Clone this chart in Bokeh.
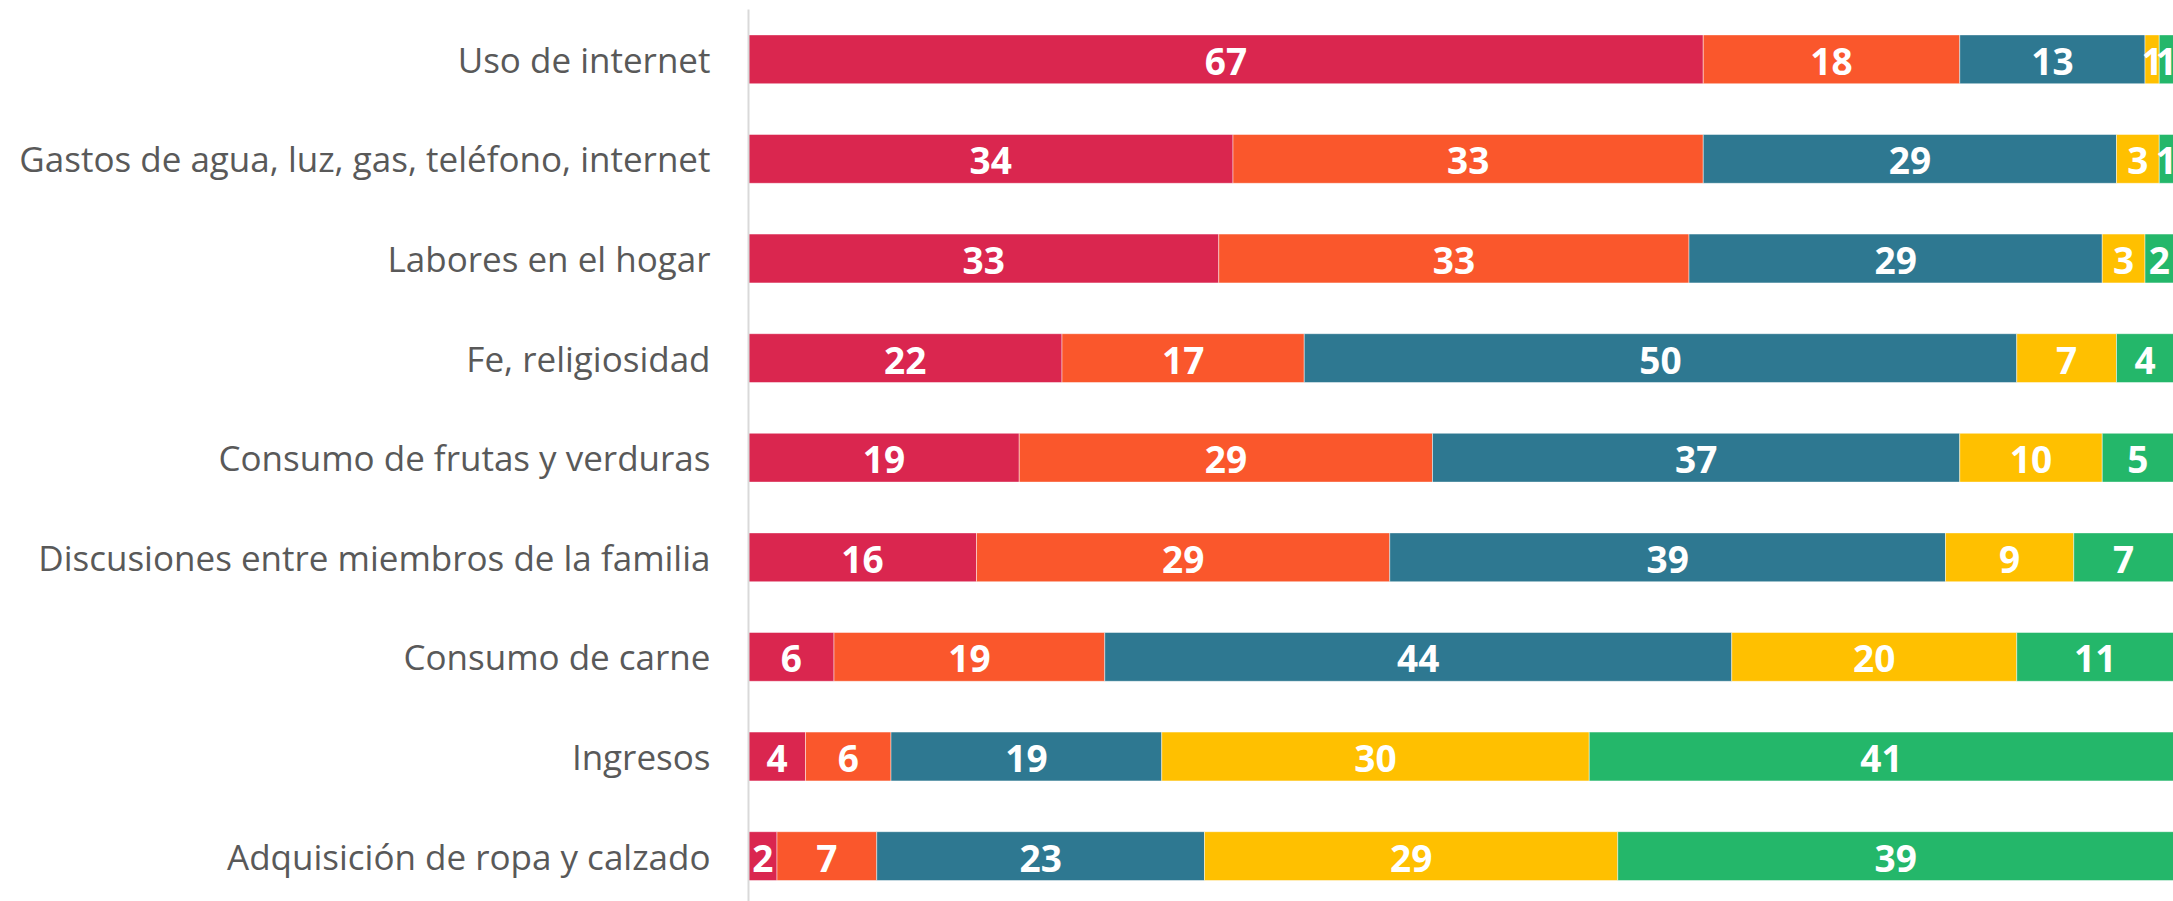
from bokeh.plotting import figure
from bokeh.models import ColumnDataSource, Range1d, FixedTicker
from bokeh.core.properties import value
from bokeh.embed import file_html
from bokeh.resources import INLINE

categories = [
    "Uso de internet",
    "Gastos de agua, luz, gas, teléfono, internet",
    "Labores en el hogar",
    "Fe, religiosidad",
    "Consumo de frutas y verduras",
    "Discusiones entre miembros de la familia",
    "Consumo de carne",
    "Ingresos",
    "Adquisición de ropa y calzado",
]
serie_1 = [67, 34, 33, 22, 19, 16, 6, 4, 2]
serie_2 = [18, 33, 33, 17, 29, 29, 19, 6, 7]
serie_3 = [13, 29, 29, 50, 37, 39, 44, 19, 23]
serie_4 = [1, 3, 3, 7, 10, 9, 20, 30, 29]
serie_5 = [1, 1, 2, 4, 5, 7, 11, 41, 39]

series = [serie_1, serie_2, serie_3, serie_4, serie_5]
colors = ["#DA264F", "#FA572C", "#2E7891", "#FFC000", "#24B76A"]

W, H = 2173, 901
frame_top = 9
band = 99.6
y_top = -0.5
y_bottom = y_top + (H - frame_top) / band
left_border = 748
x_end = (W - left_border) / 14.25

p = figure(
    width=W, height=H, output_backend="svg", toolbar_location=None,
    x_range=Range1d(0, x_end), y_range=Range1d(y_bottom, y_top),
    x_axis_location=None, min_border_left=left_border, min_border_right=0,
    min_border_top=frame_top, min_border_bottom=0,
)
p.outline_line_color = None
p.grid.visible = False
p.background_fill_color = "white"
p.border_fill_color = "white"

ys = list(range(len(categories)))
left = [0] * len(categories)
for vals, col in zip(series, colors):
    right = [l + v for l, v in zip(left, vals)]
    src = ColumnDataSource(dict(
        y=ys, left=left, right=right,
        xm=[(l + r) / 2 for l, r in zip(left, right)],
        lab=[str(v) for v in vals],
    ))
    p.hbar(y="y", left="left", right="right", height=0.49, source=src,
           fill_color=col, line_color="white", line_alpha=0.45, line_width=1)
    p.text(x="xm", y="y", text="lab", source=src, text_color="white",
           text_font=value("Open Sans"), text_font_style="bold",
           text_font_size="37px", text_align="center", text_baseline="middle",
           y_offset=2)
    left = right

ax = p.yaxis[0]
ax.ticker = FixedTicker(ticks=ys)
ax.major_label_overrides = {i: c for i, c in enumerate(categories)}
ax.major_tick_line_color = None
ax.minor_tick_line_color = None
ax.major_tick_out = 0
ax.major_tick_in = 0
ax.axis_line_color = "#D9D9D9"
ax.axis_line_width = 2
ax.major_label_standoff = 38
ax.major_label_text_font = "Open Sans"
ax.major_label_text_font_size = "35px"
ax.major_label_text_color = "#595959"

open("out.html", "w").write(file_html(p, INLINE))
